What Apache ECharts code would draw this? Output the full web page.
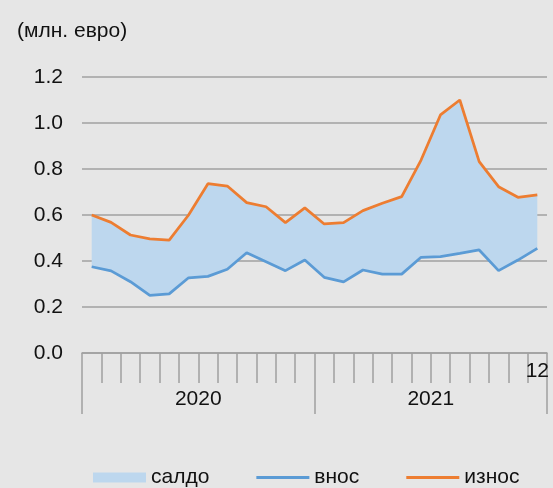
<!DOCTYPE html>
<html>
<head>
<meta charset="utf-8">
<script src="https://cdn.jsdelivr.net/npm/echarts@6/dist/echarts.min.js"></script>
<style>
  html, body { margin: 0; padding: 0; background: #e6e6e6; }
  #chart { width: 553px; height: 488px; }
</style>
</head>
<body>
<div id="chart"></div>
<script>
// месеци и години
var months = ['1','2','3','4','5','6','7','8','9','10','11','12',
              '1','2','3','4','5','6','7','8','9','10','11','12'];
var years = ['2020', '2021'];
// внос и износ (млн. евро)
var vnos = [0.375, 0.357, 0.310, 0.251, 0.257, 0.327, 0.333, 0.364, 0.436, 0.397, 0.358, 0.404,
            0.329, 0.309, 0.361, 0.343, 0.343, 0.416, 0.419, 0.433, 0.448, 0.358, 0.404, 0.455];
var iznos = [0.600, 0.568, 0.513, 0.496, 0.491, 0.600, 0.736, 0.726, 0.654, 0.636, 0.567, 0.631,
             0.561, 0.567, 0.619, 0.651, 0.680, 0.839, 1.035, 1.100, 0.832, 0.723, 0.677, 0.687];

(function() {
  var myChart = echarts.init(document.getElementById('chart'));
  // салдо = износ - внос
  var saldo = iznos.map(function(v, i) { return +(v - vnos[i]).toFixed(3); });
  var font = '"Liberation Sans", Arial, sans-serif';
  var fs = 21;
  var lineIcon = 'path://M0,0H53V3H0Z';

  var option = {
    backgroundColor: '#e6e6e6',
    animation: false,
    textStyle: { fontFamily: font },
    title: {
      text: '(млн. евро)',
      left: 12,
      top: 16,
      textStyle: { fontFamily: font, fontSize: fs, fontWeight: 'normal', color: '#111' }
    },
    legend: {
      left: 88,
      top: 462,
      itemWidth: 53,
      itemHeight: 10,
      itemGap: 47,
      symbolKeepAspect: true,
      textStyle: { fontFamily: font, fontSize: fs, color: '#111' },
      data: [
        { name: 'салдо', icon: 'rect' },
        { name: 'внос', icon: lineIcon },
        { name: 'износ', icon: lineIcon }
      ]
    },
    grid: {
      left: 82,
      right: 6,
      top: 77,
      bottom: 135
    },
    xAxis: [
      {
        type: 'category',
        data: months,
        boundaryGap: true,
        axisLine: { show: true, lineStyle: { color: '#a0a0a0', width: 1.5 } },
        axisTick: { show: true, interval: 0, length: 30, lineStyle: { color: '#a0a0a0', width: 1.5 } },
        axisLabel: {
          interval: 0,
          margin: 8,
          fontSize: fs,
          color: '#111',
          fontFamily: font,
          // само последниот месец
          formatter: function(v, i) { return i === months.length - 1 ? v : ''; }
        }
      },
      {
        type: 'category',
        data: years,
        position: 'bottom',
        boundaryGap: true,
        axisLine: { show: false },
        axisTick: { show: true, interval: 0, length: 61, lineStyle: { color: '#a0a0a0', width: 1.5 } },
        axisLabel: { margin: 36, fontSize: fs, color: '#111', fontFamily: font }
      }
    ],
    yAxis: {
      type: 'value',
      min: 0,
      max: 1.2,
      interval: 0.2,
      axisLine: { show: false },
      axisTick: { show: false },
      axisLabel: {
        margin: 19,
        fontSize: fs,
        color: '#111',
        fontFamily: font,
        formatter: function(v) { return v.toFixed(1); }
      },
      splitLine: { lineStyle: { color: '#a0a0a0', width: 1.5 } }
    },
    series: [
      {
        name: 'база',
        type: 'line',
        stack: 'a',
        data: vnos,
        symbol: 'none',
        silent: true,
        lineStyle: { opacity: 0 }
      },
      {
        name: 'салдо',
        type: 'line',
        stack: 'a',
        data: saldo,
        symbol: 'none',
        itemStyle: { color: '#bdd7ee' },
        lineStyle: { opacity: 0 },
        areaStyle: { color: '#bdd7ee', opacity: 1 }
      },
      {
        name: 'внос',
        type: 'line',
        data: vnos,
        symbol: 'none',
        itemStyle: { color: '#5b9bd5' },
        lineStyle: { color: '#5b9bd5', width: 2.75 }
      },
      {
        name: 'износ',
        type: 'line',
        data: iznos,
        symbol: 'none',
        itemStyle: { color: '#ed7d31' },
        lineStyle: { color: '#ed7d31', width: 2.75 }
      }
    ]
  };
  myChart.setOption(option);
})();
</script>
</body>
</html>
